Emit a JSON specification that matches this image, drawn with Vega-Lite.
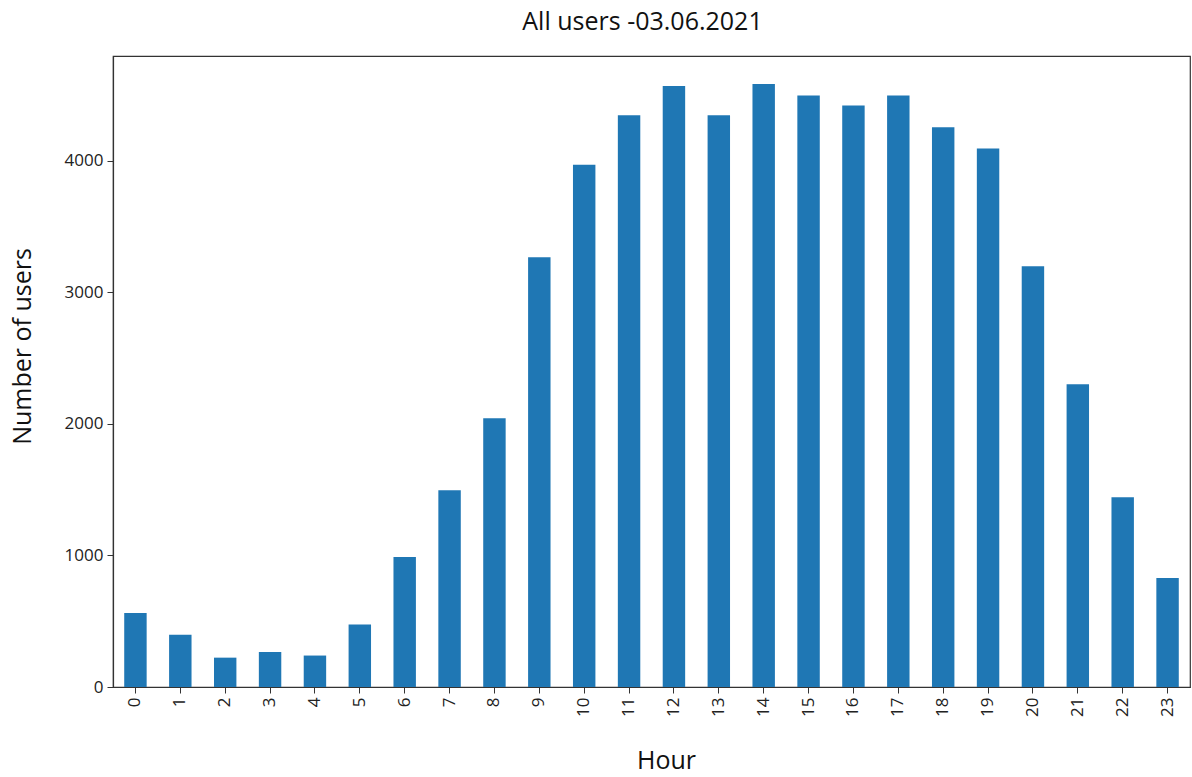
{
  "$schema": "https://vega.github.io/schema/vega-lite/v6.json",
  "width": 1077,
  "height": 631,
  "autosize": {"type": "none"},
  "padding": {"left": 113, "top": 56, "right": 2, "bottom": 90},
  "title": {"text": "All users -03.06.2021", "font": "Open Sans", "fontSize": 25, "fontWeight": "normal", "color": "#111", "offset": 21, "anchor": "middle", "dx": -9},
  "config": {
    "view": {"stroke": "#333", "strokeWidth": 1.2},
    "axis": {"grid": false, "domainColor": "#333", "domainWidth": 1.2, "tickColor": "#333", "labelColor": "#222", "titleColor": "#111", "labelFont": "Open Sans", "titleFont": "Open Sans", "labelFontSize": 17, "titleFontSize": 25, "titleFontWeight": "normal", "tickSize": 6}
  },
  "data": {"values": [
    {"hour": 0, "users": 562}, {"hour": 1, "users": 398}, {"hour": 2, "users": 223}, {"hour": 3, "users": 266},
    {"hour": 4, "users": 239}, {"hour": 5, "users": 474}, {"hour": 6, "users": 988}, {"hour": 7, "users": 1495},
    {"hour": 8, "users": 2042}, {"hour": 9, "users": 3265}, {"hour": 10, "users": 3968}, {"hour": 11, "users": 4344},
    {"hour": 12, "users": 4567}, {"hour": 13, "users": 4344}, {"hour": 14, "users": 4582}, {"hour": 15, "users": 4494},
    {"hour": 16, "users": 4418}, {"hour": 17, "users": 4494}, {"hour": 18, "users": 4253}, {"hour": 19, "users": 4093},
    {"hour": 20, "users": 3197}, {"hour": 21, "users": 2300}, {"hour": 22, "users": 1441}, {"hour": 23, "users": 828}
  ]},
  "mark": {"type": "bar", "color": "#1f77b4"},
  "encoding": {
    "x": {"field": "hour", "type": "ordinal", "title": "Hour",
      "scale": {"paddingInner": 0.5, "paddingOuter": 0.25},
      "axis": {"labelAngle": -90, "labelPadding": 4, "titleX": 553, "titleY": 73, "titleBaseline": "middle"}},
    "y": {"field": "users", "type": "quantitative", "title": "Number of users",
      "scale": {"domain": [0, 4795], "nice": false},
      "axis": {"values": [0, 1000, 2000, 3000, 4000], "format": "d", "titleX": -91, "titleY": 290, "titleBaseline": "middle", "labelPadding": 4}}
  }
}
